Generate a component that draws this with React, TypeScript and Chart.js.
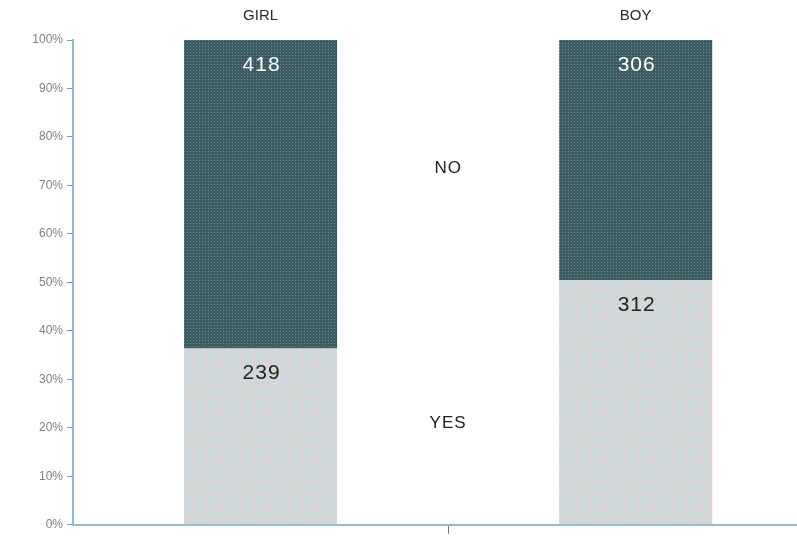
import React, { useEffect, useRef } from "react";
import { Chart, registerables } from "chart.js";

Chart.register(...registerables);

const categories = ["GIRL", "BOY"];
const categoryX = [0, 1];
const yesCounts = [239, 312];
const noCounts = [418, 306];
const segmentNames = ["YES", "NO"];
const segmentNameY = [21, 73.5];
const yTicks = [0, 10, 20, 30, 40, 50, 60, 70, 80, 90, 100];

const AXIS = "#9bb6c4";
const FONT = "'Liberation Sans', Arial, sans-serif";

function makePattern(base: string, dot: string): CanvasPattern | string {
  const c = document.createElement("canvas");
  c.width = 3;
  c.height = 3;
  const g = c.getContext("2d");
  if (!g) return base;
  g.fillStyle = base;
  g.fillRect(0, 0, 3, 3);
  g.fillStyle = dot;
  g.fillRect(1, 1, 1, 1);
  const p = g.createPattern(c, "repeat");
  return p || base;
}

export default function App() {
  const ref = useRef<HTMLCanvasElement | null>(null);

  useEffect(() => {
    if (!ref.current) return;
    const totals = yesCounts.map((v, i) => v + noCounts[i]);
    const yesPct = yesCounts.map((v, i) => (v / totals[i]) * 100);
    const noPct = noCounts.map((v, i) => (v / totals[i]) * 100);

    const labelPlugin = {
      id: "labels",
      afterDatasetsDraw(chart: any) {
        const ctx = chart.ctx;
        ctx.save();
        ctx.textAlign = "center";
        ctx.textBaseline = "middle";
        (ctx as any).letterSpacing = "1px";
        ctx.font = `21px ${FONT}`;
        chart.data.datasets.forEach((ds: any, di: number) => {
          const meta = chart.getDatasetMeta(di);
          meta.data.forEach((bar: any, i: number) => {
            ctx.fillStyle = ds.textColor;
            ctx.fillText(String(ds.counts[i]), bar.x + 1, bar.y + 25);
          });
        });
        const xs = chart.scales.x;
        const ys = chart.scales.y;
        ctx.font = `17px ${FONT}`;
        ctx.fillStyle = "#222";
        segmentNames.forEach((n, i) => {
          ctx.fillText(n, xs.getPixelForValue(0.5), ys.getPixelForValue(segmentNameY[i]));
        });
        ctx.restore();
      },
    };

    const chart = new Chart(ref.current, {
      type: "bar",
      data: {
        datasets: [
          {
            label: "YES",
            data: categoryX.map((x, i) => ({ x, y: yesPct[i] })),
            backgroundColor: makePattern("#d6d6d6", "#b4dcef"),
            borderWidth: 0,
            barPercentage: 1,
            categoryPercentage: 0.408,
            counts: yesCounts,
            textColor: "#222",
          } as any,
          {
            label: "NO",
            data: categoryX.map((x, i) => ({ x, y: noPct[i] })),
            backgroundColor: makePattern("#3a5b61", "#6d8c92"),
            borderWidth: 0,
            barPercentage: 1,
            categoryPercentage: 0.408,
            counts: noCounts,
            textColor: "#ffffff",
          } as any,
        ],
      },
      options: {
        responsive: false,
        animation: false,
        layout: { padding: 0 },
        plugins: {
          legend: { display: false },
          tooltip: { enabled: false },
        },
        scales: {
          x: {
            type: "linear",
            position: "bottom",
            stacked: true,
            offset: false,
            min: -0.5,
            max: 1.43,
            afterBuildTicks: (s: any) => {
              s.ticks = [{ value: 0.5 }];
            },
            afterFit: (s: any) => {
              s.height = 9;
            },
            ticks: { display: false },
            grid: {
              display: true,
              offset: false,
              drawOnChartArea: false,
              drawTicks: true,
              tickLength: 9,
              color: "#777",
              lineWidth: 1,
            },
            border: { display: true, color: AXIS, width: 2 },
          },
          x2: {
            type: "linear",
            position: "top",
            offset: false,
            min: -0.5,
            max: 1.43,
            afterBuildTicks: (s: any) => {
              s.ticks = categoryX.map((v) => ({ value: v }));
            },
            afterFit: (s: any) => {
              s.height = 40;
            },
            ticks: {
              padding: 7,
              color: "#2a2a2a",
              font: { family: FONT, size: 15 },
              maxRotation: 0,
              callback: (v: any) => {
                const idx = categoryX.indexOf(Number(v));
                return idx >= 0 ? categories[idx] : "";
              },
            },
            grid: { display: false, offset: false },
            border: { display: false },
          },
          y: {
            type: "linear",
            stacked: true,
            min: 0,
            max: 100,
            afterBuildTicks: (s: any) => {
              s.ticks = yTicks.map((v) => ({ value: v }));
            },
            afterFit: (s: any) => {
              s.width = 73;
            },
            ticks: {
              padding: 4,
              color: "#808080",
              font: { family: FONT, size: 12 },
              callback: (v: any) => `${v}%`,
            },
            grid: {
              display: true,
              drawOnChartArea: false,
              drawTicks: true,
              tickLength: 6,
              color: "#7f9aa8",
            },
            border: { display: true, color: AXIS, width: 2 },
          },
        },
      },
      plugins: [labelPlugin],
    } as any);

    return () => chart.destroy();
  }, []);

  return (
    <div style={{ position: "absolute", left: 0, top: 0, width: 797, height: 536, background: "#fff" }}>
      <canvas ref={ref} width={797} height={536} style={{ display: "block" }} />
    </div>
  );
}
